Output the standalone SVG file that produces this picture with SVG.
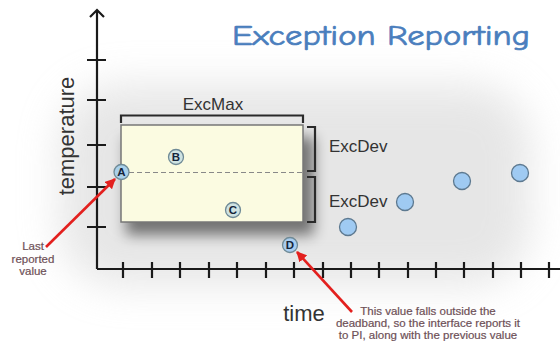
<svg xmlns="http://www.w3.org/2000/svg" width="560" height="343" viewBox="0 0 560 343">
<defs>
<style>
.ax{stroke:#1a1a1a;stroke-width:2.2;fill:none}
.tk{stroke:#1a1a1a;stroke-width:2.2}
.br{stroke:#2a2a2a;stroke-width:2.2;fill:none}
.lbl{font-family:"Liberation Sans",Arial,sans-serif;fill:#333}
.note{font-family:"Liberation Sans",Arial,sans-serif;font-size:11.5px;fill:#6e5057;text-anchor:middle;stroke:#6e5057;stroke-width:0.2}
.pt{fill:#9fcaf2;stroke:#5d7990;stroke-width:1.3}
.lp{stroke:#6f8a96;stroke-width:1.3}
.lt{font-family:"Liberation Sans",Arial,sans-serif;font-weight:bold;font-size:11.5px;fill:#15243a;text-anchor:middle}
.red{stroke:#e3201e;stroke-width:2.6;fill:none}
</style>
<filter id="blur" x="-50%" y="-50%" width="200%" height="200%"><feGaussianBlur stdDeviation="20"/></filter>
<filter id="sh" x="-20%" y="-20%" width="150%" height="160%"><feGaussianBlur stdDeviation="7"/></filter>
<marker id="ah" viewBox="0 0 10 10" refX="9" refY="5" markerWidth="4" markerHeight="4" orient="auto" markerUnits="strokeWidth"><path d="M0,0 L10,5 L0,10 z" fill="#e3201e"/></marker>
</defs>
<rect width="560" height="343" fill="#fff"/>
<g id="background-glow" opacity="0.6">
<rect x="60" y="85" width="470" height="200" rx="60" fill="#d6d6d6" filter="url(#blur)"/>
</g>
<g id="title"><text x="381" y="45" font-family="'Comic Neue','DejaVu Sans',sans-serif" font-size="28" fill="#4a7ebd" stroke="#4a7ebd" stroke-width="0.7" text-anchor="middle" textLength="298" lengthAdjust="spacingAndGlyphs">Exception Reporting</text></g>
<g id="axes">
<path class="ax" d="M97,269 V10 M90,17 L97,10 L104,17"/>
<path class="ax" d="M97,269 H560"/>
<path class="tk" d="M87,60 H106 M87,100 H106 M87,145 H106 M87,187 H106 M87,227 H106"/>
<path class="tk" d="M123,262 V278 M152,262 V278 M180,262 V278 M209,262 V278 M237,262 V278 M266,262 V278 M294,262 V278 M323,262 V278 M351,262 V278 M379,262 V278 M408,262 V278 M436,262 V278 M464,262 V278 M493,262 V278 M521,262 V278 M549,262 V278"/>
<text class="lbl" font-size="22" transform="translate(74,136) rotate(-90)" text-anchor="middle">temperature</text>
<text class="lbl" font-size="22" x="304" y="321" text-anchor="middle">time</text>
</g>
<g id="deadband">
<rect x="126" y="137" width="188" height="98" fill="#000" opacity="0.5" filter="url(#sh)"/>
<rect x="121" y="125" width="182" height="97" fill="#fbfbe1" stroke="#777" stroke-width="1.5"/>
<line x1="121" y1="172.5" x2="303" y2="172.5" stroke="#888" stroke-width="1.2" stroke-dasharray="5,3"/>
</g>
<g id="excmax">
<path class="br" d="M121,123 V115.5 H303 V123"/>
<text class="lbl" font-size="17" x="213" y="110" text-anchor="middle">ExcMax</text>
</g>
<g id="excdev-upper">
<path class="br" d="M307,127 H315 V171 H307"/>
<text class="lbl" font-size="17" x="329" y="152">ExcDev</text>
</g>
<g id="excdev-lower">
<path class="br" d="M307,177 H315 V222 H307"/>
<text class="lbl" font-size="17" x="329" y="207">ExcDev</text>
</g>
<g id="points">
<circle class="pt" cx="348" cy="227" r="8.5"/>
<circle class="pt" cx="405" cy="202" r="8.5"/>
<circle class="pt" cx="462" cy="181" r="8.5"/>
<circle class="pt" cx="520" cy="173" r="8.5"/>
</g>
<g id="point-a"><circle class="lp" cx="121.5" cy="172" r="7.5" fill="#a9d0ea"/><text class="lt" x="121.5" y="176">A</text></g>
<g id="point-b"><circle class="lp" cx="176" cy="157" r="7.5" fill="#cfe3e2"/><text class="lt" x="176" y="161">B</text></g>
<g id="point-c"><circle class="lp" cx="233" cy="210" r="7.5" fill="#cfe3e2"/><text class="lt" x="233" y="214">C</text></g>
<g id="point-d"><circle class="lp" cx="290" cy="245" r="7.5" fill="#a8cdf0"/><text class="lt" x="290" y="249">D</text></g>
<g id="connectors">
<line class="red" x1="46" y1="247" x2="115" y2="179" marker-end="url(#ah)"/>
<line class="red" x1="352" y1="312" x2="297" y2="252" marker-end="url(#ah)"/>
</g>
<g id="note-last">
<text class="note" x="33" y="250">Last</text>
<text class="note" x="33" y="262.5">reported</text>
<text class="note" x="33" y="275">value</text>
</g>
<g id="note-d">
<text class="note" x="428" y="315">This value falls outside the</text>
<text class="note" x="428" y="327">deadband, so the interface reports it</text>
<text class="note" x="428" y="339">to PI, along with the previous value</text>
</g>
</svg>
